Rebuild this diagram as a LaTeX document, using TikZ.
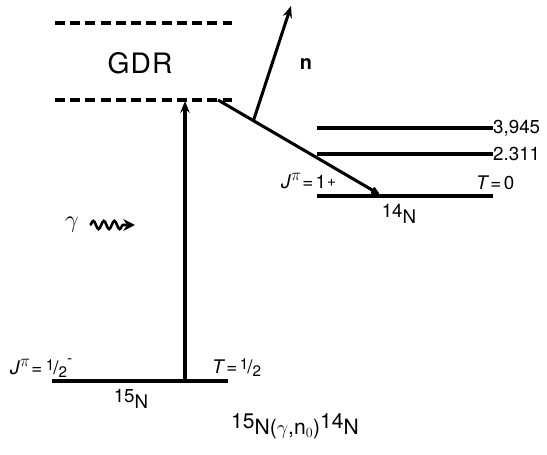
\documentclass[tikz,border=0pt]{standalone}
\usepackage{amsmath}
\usepackage{fontspec}
\setmainfont{TeX Gyre Heros}
\setsansfont{TeX Gyre Heros}
\usetikzlibrary{arrows.meta,calc,decorations.pathmorphing}

\newcommand{\nuc}[2]{#1\raisebox{-0.55ex}{#2}}
\newcommand{\smallfs}{\fontsize{13}{13}\selectfont}
\newcommand{\hlf}{\raisebox{0.45ex}{\smallfs 1}\kern-0.05em/\raisebox{-0.3ex}{\smallfs 2}}
\newcommand{\jpi}{\textit{J}\raisebox{0.9ex}{\fontsize{15}{15}\selectfont$\pi$}}

\begin{document}
\begin{tikzpicture}[
    x=0.03cm, y=-0.03cm,
    level/.style={line width=2.8pt},
    gdrline/.style={line width=2.8pt, dash pattern=on 8.5pt off 4.5pt},
    track/.style={line width=2.6pt, -{Stealth[length=10pt,width=8pt]}},
    lbl/.style={font=\sffamily\fontsize{16}{16}\selectfont, inner sep=0pt}
]
\useasboundingbox (0,0) rectangle (547,455);

% GDR region
\coordinate (gdrtopL) at (55,23);
\coordinate (gdrtopR) at (232,23);
\coordinate (gdrL) at (55,100);
\coordinate (gdrR) at (235,100);
\draw[gdrline] (gdrtopL) -- (gdrtopR);
\draw[gdrline] (gdrL) -- (gdrR);
\node[font=\sffamily\fontsize{24}{24}\selectfont] (gdr) at (140,63) {G\kern1pt D\kern1pt R};

% 15N ground state
\coordinate (n15L) at (52,381);
\coordinate (n15R) at (228,381);
\draw[level] (n15L) -- (n15R);
\node[lbl, anchor=base west] (jpi15) at (10,375)
    {\jpi\kern1pt=\kern3pt\hlf\raisebox{1.2ex}{\smallfs -}};
\node[lbl, anchor=base west] (t15) at (212,374) {\textit{T}\kern1pt=\kern2pt\hlf};
\node[lbl] (name15) at (131,399) {\nuc{15}{N}};

% 14N levels
\coordinate (n14L) at (317,196);
\coordinate (n14R) at (493,196);
\coordinate (ex2L) at (317,154);
\coordinate (ex2R) at (493,154);
\coordinate (ex3L) at (317,128);
\coordinate (ex3R) at (493,128);
\draw[level] (n14L) -- (n14R);
\draw[level] (ex2L) -- (ex2R);
\draw[level] (ex3L) -- (ex3R);
\node[lbl, anchor=west] (e3) at (ex3R) {3,945};
\node[lbl, anchor=west] (e2) at (ex2R) {2.311};
\node[lbl, anchor=base west] (jpi14) at (281,189)
    {\jpi\kern1pt=\kern2pt1\kern1pt\raisebox{0.3ex}{\smallfs +}};
\node[lbl, anchor=base west] (t14) at (476,190) {\textit{T}\kern1pt=\kern2pt0};
\node[lbl] (name14) at (399,214) {\nuc{14}{N}};

% photon
\node[lbl, font=\fontsize{21}{21}\selectfont] (gam) at (72,225) {$\gamma$};
\coordinate (gamstart) at (90,225);
\coordinate (gamend) at (135,225);
\draw[line width=2.2pt, decorate,
      decoration={snake, amplitude=3.5pt, segment length=9pt, post length=9pt},
      -{Stealth[length=10pt,width=10pt]}] (gamstart) -- (gamend);

% excitation and decay
\coordinate (absorb) at (185,381);
\coordinate (gdrhit) at (185,101);
\draw[track] (absorb) -- (gdrhit);
\coordinate (slantA) at (218,100);
\coordinate (slantB) at (379,194);
\draw[line width=2.6pt, -{Latex[length=9pt,width=8pt,round]}] (slantA) -- (slantB);
\coordinate (emit) at ($(slantA)!0.22!(slantB)$);
\coordinate (nout) at (291,6);
\draw[track] (emit) -- (nout);
\node[lbl, font=\sffamily\bfseries\fontsize{17}{17}\selectfont] (nlab) at (306,64) {n};

% reaction
\node[lbl, font=\sffamily\fontsize{18}{18}\selectfont] (reac) at (295,426)
    {\nuc{15}{N($\gamma$,n$_0$)}\nuc{14}{N}};
\end{tikzpicture}
\end{document}
